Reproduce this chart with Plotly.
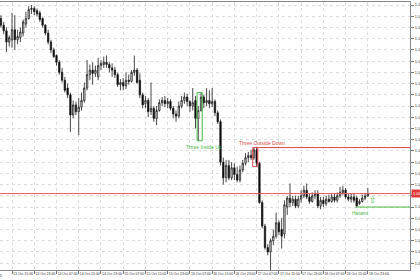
import plotly.graph_objects as go
import pandas as pd

# hourly bars, 13 Oct 2025 11:00 .. 18 Oct 2025 23:00
times = pd.date_range("2025-10-13 11:00", periods=133, freq="h")

open_ = [1.0848, 1.0842, 1.0837, 1.0827, 1.0829, 1.0838, 1.0829, 1.0831, 1.0835, 1.0843,
         1.0848, 1.0856, 1.0857, 1.0855, 1.0853, 1.0848, 1.0842, 1.0835, 1.0827, 1.0820,
         1.0815, 1.0809, 1.0800, 1.0793, 1.0786, 1.0780, 1.0762, 1.0771, 1.0765, 1.0769,
         1.0775, 1.0786, 1.0798, 1.0802, 1.0799, 1.0796, 1.0806, 1.0807, 1.0809, 1.0807,
         1.0804, 1.0802, 1.0798, 1.0789, 1.0791, 1.0788, 1.0793, 1.0792, 1.0800, 1.0802,
         1.0793, 1.0780, 1.0772, 1.0775, 1.0765, 1.0768, 1.0759, 1.0766, 1.0773, 1.0775,
         1.0772, 1.0774, 1.0768, 1.0763, 1.0761, 1.0770, 1.0775, 1.0778, 1.0774, 1.0770,
         1.0775, 1.0759, 1.0766, 1.0778, 1.0773, 1.0775, 1.0772, 1.0774, 1.0764, 1.0756,
         1.0720, 1.0706, 1.0717, 1.0706, 1.0715, 1.0709, 1.0704, 1.0713, 1.0719, 1.0724,
         1.0726, 1.0724, 1.0731, 1.0719, 1.0684, 1.0663, 1.0644, 1.0640, 1.0650, 1.0654,
         1.0666, 1.0660, 1.0656, 1.0680, 1.0688, 1.0684, 1.0687, 1.0681, 1.0687, 1.0690,
         1.0695, 1.0689, 1.0685, 1.0690, 1.0692, 1.0681, 1.0686, 1.0683, 1.0687, 1.0685,
         1.0689, 1.0686, 1.0690, 1.0693, 1.0695, 1.0689, 1.0687, 1.0689, 1.0688, 1.0683,
         1.0685, 1.0688, 1.0690]
high = [1.0851, 1.0845, 1.0840, 1.0833, 1.0853, 1.0851, 1.0838, 1.0840, 1.0847, 1.0854,
        1.0859, 1.0860, 1.0859, 1.0857, 1.0855, 1.0849, 1.0843, 1.0838, 1.0829, 1.0822,
        1.0816, 1.0811, 1.0804, 1.0796, 1.0790, 1.0782, 1.0775, 1.0774, 1.0777, 1.0782,
        1.0791, 1.0811, 1.0807, 1.0809, 1.0806, 1.0813, 1.0811, 1.0814, 1.0815, 1.0809,
        1.0808, 1.0805, 1.0800, 1.0794, 1.0795, 1.0800, 1.0798, 1.0802, 1.0815, 1.0804,
        1.0799, 1.0782, 1.0779, 1.0777, 1.0791, 1.0770, 1.0770, 1.0776, 1.0778, 1.0779,
        1.0777, 1.0776, 1.0770, 1.0766, 1.0774, 1.0779, 1.0782, 1.0781, 1.0775, 1.0786,
        1.0779, 1.0770, 1.0782, 1.0780, 1.0786, 1.0784, 1.0786, 1.0776, 1.0766, 1.0758,
        1.0724, 1.0722, 1.0722, 1.0720, 1.0719, 1.0716, 1.0717, 1.0722, 1.0728, 1.0729,
        1.0731, 1.0733, 1.0733, 1.0720, 1.0686, 1.0665, 1.0647, 1.0652, 1.0660, 1.0675,
        1.0668, 1.0670, 1.0686, 1.0690, 1.0701, 1.0690, 1.0690, 1.0690, 1.0695, 1.0699,
        1.0701, 1.0692, 1.0693, 1.0695, 1.0695, 1.0689, 1.0689, 1.0690, 1.0691, 1.0692,
        1.0692, 1.0693, 1.0698, 1.0699, 1.0697, 1.0692, 1.0692, 1.0692, 1.0690, 1.0687,
        1.0691, 1.0692, 1.0697]
low = [1.0840, 1.0834, 1.0818, 1.0823, 1.0822, 1.0820, 1.0825, 1.0827, 1.0832, 1.0840,
       1.0847, 1.0852, 1.0851, 1.0850, 1.0845, 1.0840, 1.0833, 1.0825, 1.0817, 1.0813,
       1.0806, 1.0798, 1.0791, 1.0782, 1.0777, 1.0747, 1.0759, 1.0762, 1.0744, 1.0766,
       1.0773, 1.0784, 1.0793, 1.0789, 1.0796, 1.0793, 1.0802, 1.0804, 1.0804, 1.0800,
       1.0796, 1.0795, 1.0787, 1.0784, 1.0784, 1.0785, 1.0789, 1.0791, 1.0797, 1.0790,
       1.0777, 1.0768, 1.0768, 1.0760, 1.0762, 1.0756, 1.0753, 1.0765, 1.0770, 1.0769,
       1.0768, 1.0766, 1.0759, 1.0756, 1.0759, 1.0768, 1.0772, 1.0770, 1.0765, 1.0766,
       1.0750, 1.0739, 1.0765, 1.0768, 1.0770, 1.0768, 1.0769, 1.0761, 1.0754, 1.0717,
       1.0700, 1.0702, 1.0704, 1.0704, 1.0704, 1.0702, 1.0702, 1.0711, 1.0717, 1.0720,
       1.0722, 1.0722, 1.0716, 1.0683, 1.0661, 1.0642, 1.0637, 1.0624, 1.0646, 1.0652,
       1.0655, 1.0643, 1.0652, 1.0673, 1.0680, 1.0681, 1.0679, 1.0679, 1.0684, 1.0688,
       1.0687, 1.0683, 1.0684, 1.0687, 1.0679, 1.0678, 1.0680, 1.0681, 1.0684, 1.0684,
       1.0684, 1.0684, 1.0688, 1.0691, 1.0687, 1.0685, 1.0684, 1.0684, 1.0680, 1.0682,
       1.0684, 1.0686, 1.0689]
close = [1.0842, 1.0837, 1.0827, 1.0831, 1.0838, 1.0829, 1.0832, 1.0836, 1.0845, 1.0848,
         1.0856, 1.0857, 1.0854, 1.0852, 1.0847, 1.0842, 1.0835, 1.0827, 1.0820, 1.0814,
         1.0809, 1.0800, 1.0793, 1.0784, 1.0780, 1.0762, 1.0771, 1.0765, 1.0769, 1.0775,
         1.0786, 1.0798, 1.0802, 1.0799, 1.0802, 1.0806, 1.0808, 1.0809, 1.0807, 1.0804,
         1.0802, 1.0798, 1.0789, 1.0791, 1.0788, 1.0793, 1.0792, 1.0800, 1.0802, 1.0791,
         1.0780, 1.0771, 1.0775, 1.0765, 1.0768, 1.0759, 1.0766, 1.0773, 1.0775, 1.0772,
         1.0774, 1.0768, 1.0763, 1.0761, 1.0770, 1.0775, 1.0778, 1.0774, 1.0770, 1.0773,
         1.0759, 1.0766, 1.0778, 1.0773, 1.0775, 1.0772, 1.0774, 1.0764, 1.0756, 1.0720,
         1.0706, 1.0717, 1.0706, 1.0715, 1.0709, 1.0704, 1.0713, 1.0719, 1.0724, 1.0726,
         1.0724, 1.0731, 1.0719, 1.0684, 1.0663, 1.0644, 1.0640, 1.0650, 1.0654, 1.0666,
         1.0658, 1.0654, 1.0682, 1.0688, 1.0684, 1.0687, 1.0681, 1.0687, 1.0690, 1.0695,
         1.0689, 1.0685, 1.0690, 1.0692, 1.0681, 1.0686, 1.0683, 1.0687, 1.0685, 1.0689,
         1.0686, 1.0690, 1.0693, 1.0695, 1.0689, 1.0687, 1.0689, 1.0686, 1.0681, 1.0685,
         1.0688, 1.0690, 1.0692]

# pattern boxes: name, first bar, last bar, colour
box_names = ["Three Inside Up", "Three Outside Down"]
box_first = [71, 91]
box_last = [72, 92]
box_colors = ["#46b946", "#e24848"]
harami_bar = 128
harami_color = "#46b946"

x_ticks = pd.date_range("2025-10-13 15:00", "2025-10-18 23:00", freq="8h")
x_start = pd.Timestamp("2025-10-13 10:40:30")
x_end = pd.Timestamp("2025-10-19 14:10")
y_range = [1.06239, 1.08627]

fig = go.Figure(go.Candlestick(
    x=times, open=open_, high=high, low=low, close=close,
    increasing=dict(line=dict(color="#1a1a1a", width=0.8), fillcolor="white"),
    decreasing=dict(line=dict(color="#1a1a1a", width=0.8), fillcolor="black"),
    whiskerwidth=0, hoverinfo="skip"))

half = pd.Timedelta(minutes=25)
shapes = []
annotations = []
for name, a, b, col in zip(box_names, box_first, box_last, box_colors):
    top = max(high[a:b + 1])
    bot = min(low[a:b + 1])
    shapes.append(dict(type="rect", xref="x", yref="y", x0=times[a] - half, x1=times[b] + half,
                       y0=bot, y1=top, line=dict(color=col, width=1), fillcolor="rgba(0,0,0,0)"))
    if name == "Three Inside Up":
        annotations.append(dict(x=times[b], y=bot, xref="x", yref="y", text=name,
                                showarrow=False, yanchor="top", xanchor="center", xshift=3,
                                yshift=-1, font=dict(size=5, color=col, family="Liberation Sans")))
    else:
        shapes.append(dict(type="line", xref="x", yref="y", x0=times[b] + half, x1=x_end,
                           y0=top, y1=top, line=dict(color=col, width=1)))
        annotations.append(dict(x=times[b], y=top, xref="x", yref="y", text=name,
                                showarrow=False, yanchor="bottom", xanchor="center", xshift=5,
                                yshift=0, font=dict(size=5, color=col, family="Liberation Sans")))

# Harami level
h_level = low[harami_bar]
shapes.append(dict(type="line", xref="x", yref="y", x0=times[harami_bar] - half, x1=x_end,
                   y0=h_level, y1=h_level, line=dict(color=harami_color, width=1)))
annotations.append(dict(x=times[harami_bar + 1], y=h_level, xref="x", yref="y", text="Harami",
                        showarrow=False, yanchor="top", xanchor="center", yshift=-1,
                        font=dict(size=5, color=harami_color, family="Liberation Sans")))
annotations.append(dict(x=times[-1] + pd.Timedelta(hours=2), y=h_level, xref="x", yref="y",
                        text="⇧", showarrow=False, yanchor="bottom", xanchor="center",
                        font=dict(size=9, color=harami_color, family="DejaVu Sans")))

# current price line and label
last = close[-1]
shapes.append(dict(type="line", xref="paper", yref="y", x0=0, x1=1, y0=last, y1=last,
                   line=dict(color="#e45a5a", width=1)))
annotations.append(dict(x=1, y=last, xref="paper", yref="y", text=f"{last:.4f}",
                        showarrow=False, xanchor="left", yanchor="middle", xshift=1,
                        bgcolor="#e03a3a", borderpad=1,
                        font=dict(size=4, color="white", family="Liberation Sans")))
# first date label (cut at left edge)
annotations.append(dict(x=0, y=0, xref="paper", yref="paper", text="13 Oct 2025",
                        showarrow=False, xanchor="right", yanchor="top", xshift=4, yshift=-2,
                        font=dict(size=3.5, color="#333", family="Liberation Sans")))

fig.update_layout(
    width=420, height=280,
    margin=dict(l=0, r=10, t=2, b=10, pad=0),
    paper_bgcolor="white", plot_bgcolor="white",
    showlegend=False, shapes=shapes, annotations=annotations,
    xaxis=dict(type="date", range=[x_start, x_end], rangeslider=dict(visible=False),
               showgrid=True, gridcolor="#dddddd", griddash="dot", gridwidth=1,
               tickvals=list(x_ticks), tickformat="%d %b %H:%M", ticklabelposition="outside right",
               tickangle=0, ticks="outside", ticklen=3, tickcolor="#777", showline=True,
               linecolor="#888", linewidth=1, mirror=True, zeroline=False, automargin=False,
               tickfont=dict(size=3.5, color="#333", family="Liberation Sans")),
    yaxis=dict(side="right", range=y_range, dtick=0.001, tick0=1.06, tickformat=".4f",
               showgrid=True, gridcolor="#dddddd", griddash="dot", gridwidth=1,
               ticks="outside", ticklen=3, tickcolor="#777", showline=True, linecolor="#888",
               linewidth=1, zeroline=False, automargin=False,
               tickfont=dict(size=4, color="#333", family="Liberation Sans")),
)

fig.write_html("out.html")
